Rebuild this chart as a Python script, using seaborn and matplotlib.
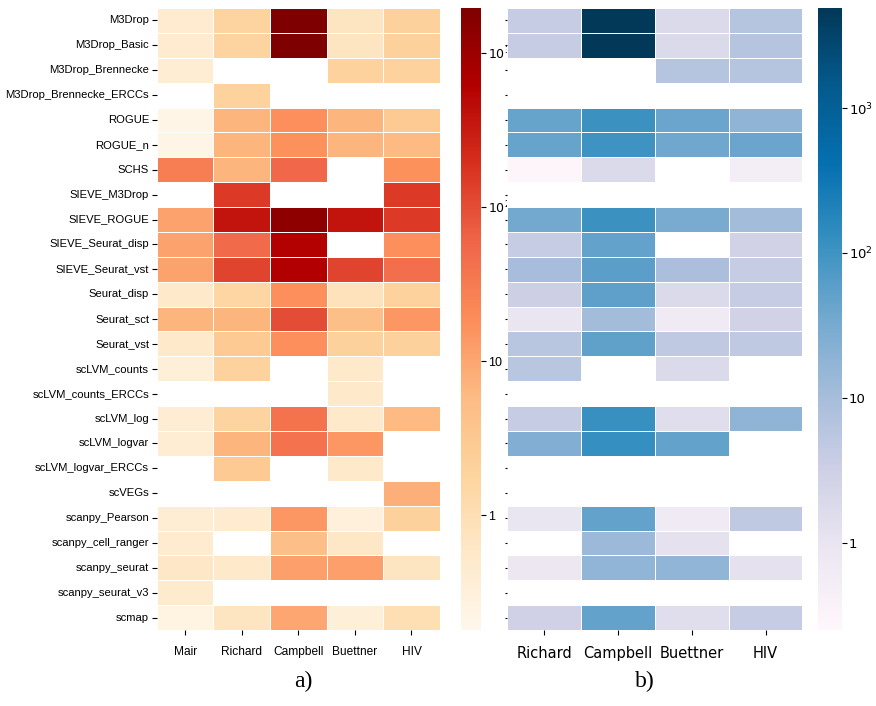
import numpy as np
import pandas as pd
import matplotlib
matplotlib.use('Agg')
import matplotlib.pyplot as plt
import seaborn as sns
from matplotlib.colors import LogNorm

methods = ['M3Drop', 'M3Drop_Basic', 'M3Drop_Brennecke', 'M3Drop_Brennecke_ERCCs',
           'ROGUE', 'ROGUE_n', 'SCHS', 'SIEVE_M3Drop', 'SIEVE_ROGUE',
           'SIEVE_Seurat_disp', 'SIEVE_Seurat_vst', 'Seurat_disp', 'Seurat_sct',
           'Seurat_vst', 'scLVM_counts', 'scLVM_counts_ERCCs', 'scLVM_log',
           'scLVM_logvar', 'scLVM_logvar_ERCCs', 'scVEGs', 'scanpy_Pearson',
           'scanpy_cell_ranger', 'scanpy_seurat', 'scanpy_seurat_v3', 'scmap']
datasets_a = ['Mair', 'Richard', 'Campbell', 'Buettner', 'HIV']
datasets_b = ['Richard', 'Campbell', 'Buettner', 'HIV']
nan = np.nan

# a) values per dataset (rows follow methods)
mair = [0.45, 0.45, 0.4, nan, 0.22, 0.22, 30, nan, 11, 11, 11, 0.55, 7, 0.55, 0.35,
        nan, 0.4, 0.4, nan, nan, 0.4, 0.45, 0.6, 0.5, 0.25]
richard_a = [1.8, 1.8, nan, 2.0, 7, 7, 7, 150, 380, 50, 120, 1.6, 7, 3, 2,
             nan, 1.8, 7, 3, nan, 0.45, nan, 0.55, nan, 0.7]
campbell_a = [1900, 1900, nan, nan, 18, 17, 55, nan, 1400, 600, 620, 18, 100, 18, nan,
              nan, 40, 40, nan, nan, 15, 5, 12, nan, 10]
buettner_a = [0.7, 0.7, 2.0, nan, 7, 7, nan, nan, 380, nan, 120, 0.8, 5, 2.2, 0.55,
              0.55, 0.55, 15, 0.55, nan, 0.3, 0.6, 12, nan, 0.35]
hiv_a = [2.2, 2.2, 2.0, nan, 3, 6, 17, 150, 150, 18, 45, 2, 15, 2.2, nan,
         nan, 6, nan, nan, 8, 2.2, nan, 0.7, nan, 1.0]

# b) values per dataset
richard_b = [4, 4, nan, nan, 45, 45, 0.3, nan, 35, 4, 10, 3.2, 1.0, 6, 6,
             nan, 4, 25, nan, nan, 1.0, nan, 0.85, nan, 3]
campbell_b = [4800, 4800, nan, nan, 110, 100, 1.8, nan, 110, 50, 60, 55, 11, 52, nan,
              nan, 120, 125, nan, nan, 48, 13, 17, nan, 48]
buettner_b = [1.8, 1.8, 6.5, nan, 42, 38, nan, nan, 30, nan, 9, 1.8, 0.7, 5, 1.8,
              nan, 1.5, 50, nan, nan, 0.7, 1.2, 17, nan, 1.5]
hiv_b = [6.5, 6.5, 6.5, nan, 18, 42, 0.55, nan, 11, 2.8, 4, 4, 2.8, 5, nan,
         nan, 18, nan, nan, nan, 5, nan, 1.2, nan, 4]

dfa = pd.DataFrame({'Mair': mair, 'Richard': richard_a, 'Campbell': campbell_a,
                    'Buettner': buettner_a, 'HIV': hiv_a}, index=methods)[datasets_a]
dfb = pd.DataFrame({'Richard': richard_b, 'Campbell': campbell_b,
                    'Buettner': buettner_b, 'HIV': hiv_b}, index=methods)[datasets_b]

narrow = 'Liberation Sans'

fig = plt.figure(figsize=(8.76, 7.06), dpi=100)
ax1 = fig.add_axes([0.179, 0.1076, 0.323, 0.881])
cax1 = fig.add_axes([0.526, 0.1076, 0.0228, 0.881])
ax2 = fig.add_axes([0.579, 0.1076, 0.337, 0.881])
cax2 = fig.add_axes([0.934, 0.1076, 0.027, 0.881])

sns.heatmap(dfa, ax=ax1, cbar_ax=cax1, cmap='OrRd', norm=LogNorm(vmin=0.18, vmax=1950),
            linewidths=0.6, linecolor='white')
sns.heatmap(dfb, ax=ax2, cbar_ax=cax2, cmap='PuBu', norm=LogNorm(vmin=0.25, vmax=4900),
            linewidths=0.6, linecolor='white')

ax1.set_xlabel('')
ax1.set_ylabel('')
ax1.set_yticks(np.arange(len(methods)) + 0.5)
ax1.set_yticklabels(methods, rotation=0, fontsize=8.1, family=narrow)
ax1.tick_params(axis='y', pad=2)
ax1.set_xticklabels(datasets_a, rotation=0, fontsize=8.6, family=narrow)
ax1.tick_params(axis='x', pad=8)

ax2.set_xlabel('')
ax2.set_ylabel('')
ax2.set_yticks(np.arange(len(methods)) + 0.5)
ax2.set_yticklabels([''] * len(methods))
ax2.tick_params(axis='y', length=1.5)
ax2.set_xticklabels(datasets_b, rotation=0, fontsize=10.5)
ax2.tick_params(axis='x', pad=8)

for cax, fam, fs in [(cax1, narrow, 9), (cax2, 'DejaVu Sans', 9.5)]:
    cax.minorticks_off()
    cax.set_yticks([1, 10, 100, 1000])
    cax.set_yticklabels(['1', '10', '$10^2$', '$10^3$'], fontsize=fs, family=fam)
    cax.tick_params(pad=1.5)
    cax.minorticks_off()

fig.text(0.346, 0.02, 'a)', ha='center', va='bottom', fontsize=17, family='Liberation Serif')
fig.text(0.736, 0.02, 'b)', ha='center', va='bottom', fontsize=17, family='Liberation Serif')

fig.savefig('out.png', dpi=100)
